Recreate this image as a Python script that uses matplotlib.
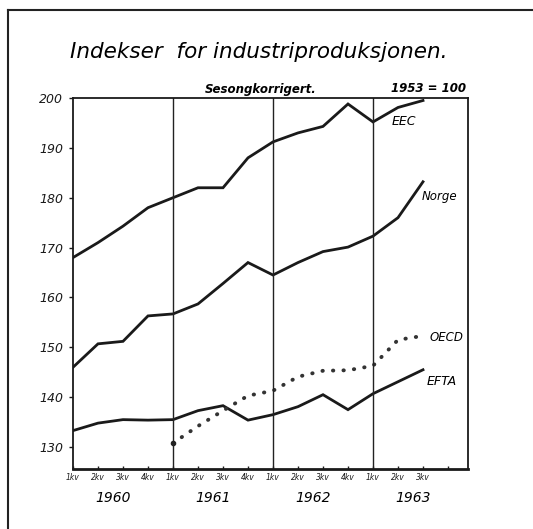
import numpy as np
import matplotlib
matplotlib.use("Agg")
import matplotlib.pyplot as plt
from matplotlib.lines import Line2D

# kvartaler 1960 1kv .. 1963 3kv (indeks 0..14)
quarters = list(range(15))
eec = [168.0, 171.0, 174.3, 178.0, 180.0, 182.0, 182.0, 188.0,
       191.2, 193.0, 194.3, 198.8, 195.2, 198.1, 199.5]
norge = [146.0, 150.7, 151.2, 156.3, 156.7, 158.7, 162.8, 167.0,
         164.5, 167.0, 169.2, 170.1, 172.3, 176.0, 183.2]
efta = [133.3, 134.8, 135.5, 135.4, 135.5, 137.3, 138.3, 135.4,
        136.5, 138.1, 140.5, 137.5, 140.7, 143.1, 145.5]
oecd_q = list(range(4, 15))
oecd = [130.8, 134.2, 137.3, 140.3, 141.3, 144.1, 145.3, 145.4,
        146.3, 151.5, 152.3]

yticks = [130, 140, 150, 160, 170, 180, 190, 200]
qlabels = ["1kv", "2kv", "3kv", "4kv"] * 4
years = ["1960", "1961", "1962", "1963"]

W, H = 533, 529
fig = plt.figure(figsize=(W / 100, H / 100), dpi=100)
ax = fig.add_axes([73 / W, 1 - 469 / H, (468 - 73) / W, (469 - 98) / H])

ital = dict(style="italic", family="DejaVu Sans")

ax.plot(quarters, eec, color="#1a1a1a", lw=2.0, solid_joinstyle="miter")
ax.plot(quarters, norge, color="#1a1a1a", lw=2.0, solid_joinstyle="miter")
ax.plot(quarters, efta, color="#1a1a1a", lw=2.0, solid_joinstyle="miter")
ax.plot(oecd_q, oecd, color="#333333", lw=2.8, ls=(0, (0.1, 2.6)),
        dash_capstyle="round")
ax.plot(oecd_q[:1], oecd[:1], "o", color="#222222", ms=3)

for q in (4, 8, 12):
    ax.axvline(q, color="#222222", lw=1.0)

ax.set_xlim(0, 15.8)
ax.set_ylim(125.6, 200)
ax.set_yticks(yticks)
ax.set_yticklabels([str(v) for v in yticks], fontsize=9, **ital)
ax.tick_params(axis="y", direction="out", length=3, width=1, pad=4,
               colors="#1a1a1a")
ax.set_xticks(range(16))
ax.set_xticklabels(qlabels[:15] + [""], fontsize=5.5, **ital)
ax.tick_params(axis="x", direction="in", length=2.5, width=1, pad=3,
               colors="#1a1a1a")
for s in ("left", "top", "right"):
    ax.spines[s].set_linewidth(1.3)
    ax.spines[s].set_color("#1a1a1a")
ax.spines["bottom"].set_linewidth(2.0)
ax.spines["bottom"].set_color("#1a1a1a")

# serienavn
ax.text(12.75, 195.2, "EEC", fontsize=9, va="center", **ital)
ax.text(13.95, 180.3, "Norge", fontsize=8.5, va="center", **ital)
ax.text(14.25, 152.0, "OECD", fontsize=8.5, va="center", **ital)
ax.text(14.15, 143.2, "EFTA", fontsize=9, va="center", **ital)

# årstall
for i, yr in enumerate(years):
    ax.text(1.6 + 4 * i, 119.8, yr, fontsize=10, ha="center", va="center",
            transform=ax.transData, clip_on=False, **ital)

fig.text(70 / W, 1 - 52 / H, "Indekser  for industriproduksjonen.",
         fontsize=15.5, va="center", ha="left", **ital)
fig.text(205 / W, 1 - 89 / H, "Sesongkorrigert.", fontsize=8.5,
         va="center", ha="left", weight="bold", **ital)
fig.text(466 / W, 1 - 89 / H, "1953 = 100", fontsize=8.5,
         va="center", ha="right", weight="bold", **ital)

# ytre ramme
fig.add_artist(Line2D([8 / W, 1], [1 - 10 / H, 1 - 10 / H],
                      transform=fig.transFigure, color="#222222", lw=1.5))
fig.add_artist(Line2D([8 / W, 8 / W], [0, 1 - 10 / H],
                      transform=fig.transFigure, color="#222222", lw=1.5))

fig.savefig("out.png", dpi=100)
